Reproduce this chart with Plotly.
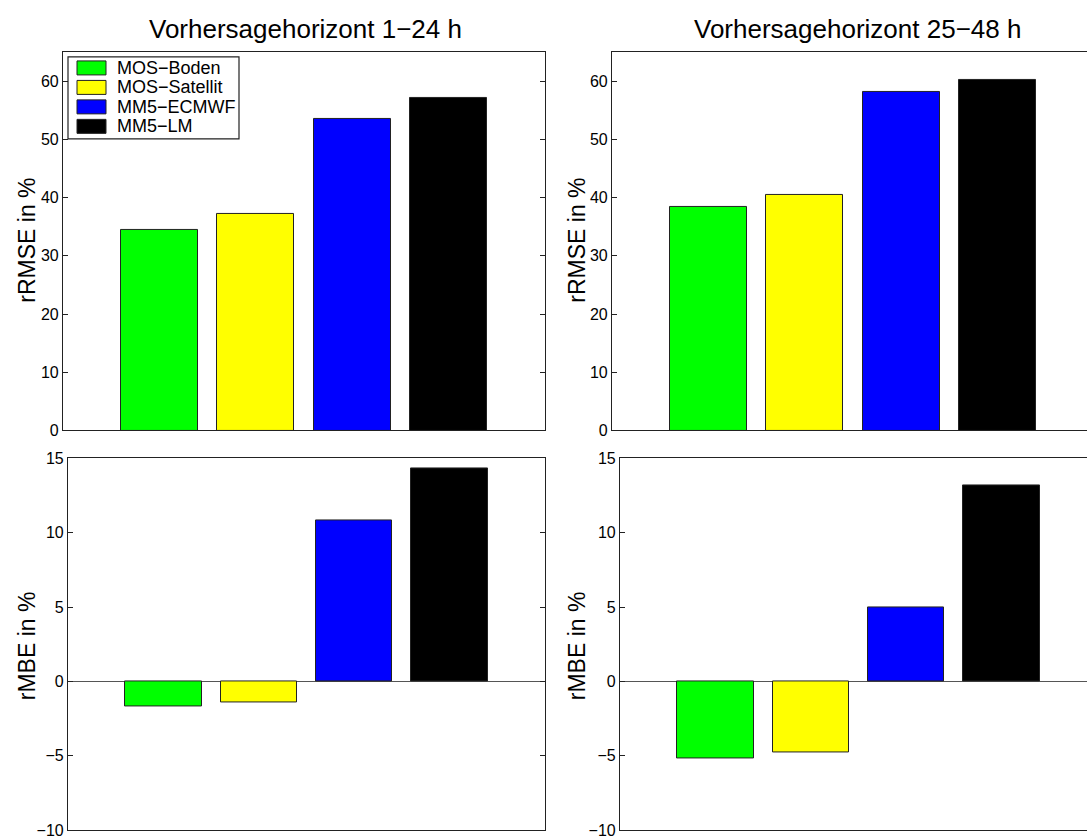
import plotly.graph_objects as go

# Forecast systems and their bar colours
systems = ["MOS\u2212Boden", "MOS\u2212Satellit", "MM5\u2212ECMWF", "MM5\u2212LM"]
bar_colors = ["#00ff00", "#ffff00", "#0000ff", "#000000"]
positions = [1, 2, 3, 4]

# Relative RMSE (%) per forecast horizon
rrmse_1_24 = [34.4, 37.1, 53.5, 57.1]
rrmse_25_48 = [38.3, 40.5, 58.2, 60.2]

# Relative MBE (%) per forecast horizon
rmbe_1_24 = [-1.7, -1.4, 10.8, 14.3]
rmbe_25_48 = [-5.2, -4.8, 5.0, 13.2]

panel_titles = ["Vorhersagehorizont 1\u221224 h", "Vorhersagehorizont 25\u221248 h"]
rmse_ticks = [0, 10, 20, 30, 40, 50, 60]
mbe_ticks = [-10, -5, 0, 5, 10, 15]

W, H = 1087, 839
INSET_Y = 8
PH = H - 2 * INSET_Y
FONT = "Liberation Sans, Arial, sans-serif"
LINE = "#222222"


def px_x(p):
    return min(1.0, max(0.0, p / W))


def px_y(p):
    return min(1.0, max(0.0, 1 - (p - INSET_Y) / PH))


BOTTOM = min(835, INSET_Y + PH)

fig = go.Figure()

panels = [
    ("x", "y", rrmse_1_24),
    ("x2", "y2", rrmse_25_48),
    ("x3", "y3", rmbe_1_24),
    ("x4", "y4", rmbe_25_48),
]
for xa, ya, vals in panels:
    fig.add_trace(go.Bar(
        x=positions, y=vals, xaxis=xa, yaxis=ya, width=0.8,
        marker=dict(color=bar_colors, line=dict(color=LINE, width=1)),
        showlegend=False, hoverinfo="x+y",
    ))

axis_line = dict(showline=True, linecolor=LINE, linewidth=1.2, showgrid=False)


def xax(domain, rng, anchor):
    return dict(domain=domain, range=rng, anchor=anchor, showticklabels=False,
                ticks="", mirror=True, zeroline=False, fixedrange=True, **axis_line)


def yax(domain, rng, anchor, tickvals, mirror, zero=False):
    return dict(domain=domain, range=rng, anchor=anchor, tickvals=tickvals,
                ticktext=[str(v).replace("-", "\u2212") for v in tickvals],
                ticks="inside", ticklen=5, tickcolor=LINE, mirror=mirror,
                tickfont=dict(family=FONT, size=16, color="#000000"),
                zeroline=zero, zerolinecolor="#555555", zerolinewidth=1,
                fixedrange=True, **axis_line)


top_dom = [px_y(431), px_y(52)]
bot_dom = [px_y(BOTTOM), px_y(459)]

fig.update_layout(
    width=W, height=H,
    margin=dict(l=0, r=0, t=0, b=0),
    paper_bgcolor="white", plot_bgcolor="white",
    bargap=0,
    xaxis=xax([px_x(63), px_x(545)], [0, 5], "y"),
    yaxis=yax(top_dom, [0, 65], "x", rmse_ticks, "ticks"),
    xaxis2=xax([px_x(612), 1], [0, 5 * (W - 612) / 482], "y2"),
    yaxis2=yax(top_dom, [0, 65], "x2", rmse_ticks, False),
    xaxis3=xax([px_x(68), px_x(545)], [0, 5], "y3"),
    yaxis3=yax(bot_dom, [-10, 15], "x3", mbe_ticks, "ticks", zero=True),
    xaxis4=xax([px_x(620), 1], [0, 5 * (W - 620) / 477], "y4"),
    yaxis4=yax(bot_dom, [-10, 15], "x4", mbe_ticks, False, zero=True),
)

annotations = []
shapes = []

# Panel titles
for title, cx in zip(panel_titles, [305, 857]):
    annotations.append(dict(text=title, x=px_x(cx), y=px_y(29), xref="paper", yref="paper",
                            showarrow=False, xanchor="center", yanchor="middle",
                            font=dict(family=FONT, size=26, color="#000000")))

# Y-axis titles
for label, cx, cy in [("rRMSE in %", 27, 241), ("rRMSE in %", 577, 241),
                      ("rMBE in %", 27, 647), ("rMBE in %", 577, 647)]:
    annotations.append(dict(text=label, x=px_x(cx), y=px_y(cy), xref="paper", yref="paper",
                            showarrow=False, textangle=-90, xanchor="center", yanchor="middle",
                            font=dict(family=FONT, size=23, color="#000000")))

# Legend box with colour swatches
shapes.append(dict(type="rect", xref="paper", yref="paper",
                   x0=px_x(68), x1=px_x(239), y0=px_y(139), y1=px_y(57),
                   line=dict(color=LINE, width=1.2), fillcolor="white"))
for i, (name, col) in enumerate(zip(systems, bar_colors)):
    cy = 68 + i * 19.5
    shapes.append(dict(type="rect", xref="paper", yref="paper",
                       x0=px_x(77), x1=px_x(106), y0=px_y(cy + 7), y1=px_y(cy - 7),
                       line=dict(color=LINE, width=1), fillcolor=col))
    annotations.append(dict(text=name, x=px_x(115), y=px_y(cy), xref="paper", yref="paper",
                            showarrow=False, xanchor="left", yanchor="middle",
                            font=dict(family=FONT, size=18, color="#000000")))

fig.update_layout(annotations=annotations, shapes=shapes)

fig.write_html("out.html")
